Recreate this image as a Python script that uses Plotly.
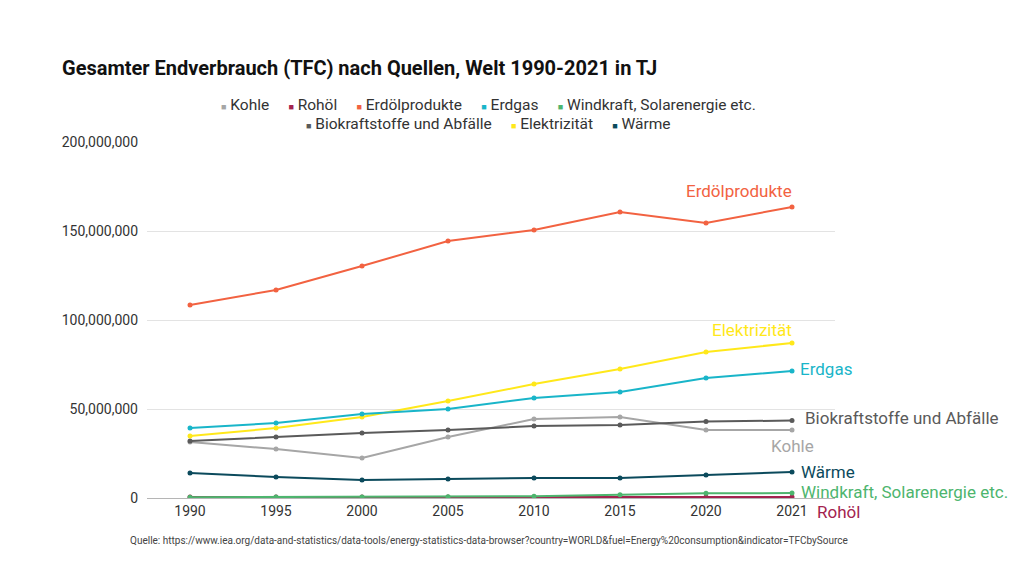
import plotly.graph_objects as go

years = ["1990", "1995", "2000", "2005", "2010", "2015", "2020", "2021"]

kohle = [31.5e6, 27.5e6, 22.5e6, 34.3e6, 44.4e6, 45.5e6, 38.2e6, 38.2e6]
rohoel = [0.5e6, 0.5e6, 0.5e6, 0.5e6, 0.5e6, 0.6e6, 0.6e6, 0.6e6]
erdoelprodukte = [108.4e6, 116.9e6, 130.3e6, 144.4e6, 150.6e6, 160.7e6, 154.5e6, 163.5e6]
erdgas = [39.3e6, 42.1e6, 47.2e6, 50.0e6, 56.2e6, 59.6e6, 67.4e6, 71.3e6]
windkraft = [0.4e6, 0.5e6, 0.6e6, 0.7e6, 1.0e6, 1.8e6, 2.6e6, 2.8e6]
biokraft = [32.0e6, 34.3e6, 36.5e6, 38.2e6, 40.4e6, 41.0e6, 43.0e6, 43.5e6]
elektrizitaet = [34.8e6, 39.3e6, 45.5e6, 54.5e6, 64.0e6, 72.5e6, 82.0e6, 87.1e6]
waerme = [14.0e6, 11.8e6, 10.1e6, 10.7e6, 11.2e6, 11.2e6, 12.9e6, 14.6e6]

names = ["Kohle", "Rohöl", "Erdölprodukte", "Erdgas", "Windkraft, Solarenergie etc.",
         "Biokraftstoffe und Abfälle", "Elektrizität", "Wärme"]
series = [kohle, rohoel, erdoelprodukte, erdgas, windkraft, biokraft, elektrizitaet, waerme]
colors = ["#a6a6a6", "#a3234f", "#f26241", "#19b5c9", "#4db56e",
          "#5a5a5a", "#ffe81a", "#0b4a5c"]

# end-label placement: (xanchor, xshift, yshift)
label_pos = {
    "Kohle": ("right", 24, -16),
    "Rohöl": ("left", 23, -15),
    "Erdölprodukte": ("right", 2, 16),
    "Erdgas": ("left", 6, 2),
    "Windkraft, Solarenergie etc.": ("left", 7, 1),
    "Biokraftstoffe und Abfälle": ("left", 11, 3),
    "Elektrizität": ("right", 2, 13),
    "Wärme": ("left", 7, 0),
}

FONT = "Roboto"
xi = list(range(len(years)))
fig = go.Figure()

draw_order = [1, 4, 7, 0, 5, 6, 3, 2]
for i in draw_order:
    fig.add_trace(go.Scatter(
        x=xi, y=series[i], mode="lines+markers", name=names[i],
        line=dict(color=colors[i], width=2),
        marker=dict(color=colors[i], size=5),
        showlegend=False,
        customdata=years,
        hovertemplate="%{customdata}: %{y:,}<extra>" + names[i] + "</extra>",
    ))

for i, n in enumerate(names):
    xa, xs, ys = label_pos[n]
    fig.add_annotation(
        x=xi[-1], y=series[i][-1], xref="x", yref="y",
        text=n, showarrow=False, xanchor=xa, yanchor="middle",
        xshift=xs, yshift=ys,
        font=dict(family=FONT, size=17, color=colors[i]),
    )

# legend rows (centered, two rows as in the original)
def legend_row(idx):
    parts = []
    for i in idx:
        parts.append("<span style='font-size:9px;color:%s'>■</span>&nbsp;%s" % (colors[i], names[i]))
    return "&nbsp;&nbsp;&nbsp;&nbsp;&nbsp;".join(parts)

fig.add_annotation(xref="paper", yref="paper", x=0.497, y=1 + 37 / 356,
                   xanchor="center", yanchor="middle", showarrow=False,
                   text=legend_row([0, 1, 2, 3, 4]),
                   font=dict(family=FONT, size=15.5, color="#333333"))
fig.add_annotation(xref="paper", yref="paper", x=0.497, y=1 + 18 / 356,
                   xanchor="center", yanchor="middle", showarrow=False,
                   text=legend_row([5, 6, 7]),
                   font=dict(family=FONT, size=15.5, color="#333333"))

fig.add_annotation(
    xref="paper", yref="paper", x=-19 / 688, y=-42 / 356, xanchor="left", yanchor="middle",
    text="Quelle: https://www.iea.org/data-and-statistics/data-tools/energy-statistics-data-browser?country=WORLD&fuel=Energy%20consumption&indicator=TFCbySource",
    showarrow=False, font=dict(family=FONT, size=10, color="#444444"),
)

fig.update_layout(
    width=1024, height=576,
    paper_bgcolor="white", plot_bgcolor="white",
    margin=dict(l=147, r=189, t=142, b=78),
    showlegend=False,
    title=dict(
        text="<b>Gesamter Endverbrauch (TFC) nach Quellen, Welt 1990-2021 in TJ</b>",
        x=62 / 1024, xanchor="left", y=1 - 68 / 576, yanchor="middle",
        font=dict(family=FONT, size=20, color="#111111"),
    ),
    xaxis=dict(
        range=[-0.5, len(years) - 0.5], tickvals=xi, ticktext=years,
        showgrid=False, showline=False, ticks="", zeroline=False,
        ticklabelstandoff=3,
        tickfont=dict(family=FONT, size=14, color="#333333"),
    ),
    yaxis=dict(
        range=[0, 200e6], tickvals=[0, 50e6, 100e6, 150e6, 200e6],
        tickformat=",d", showgrid=True, gridcolor="#e3e3e3", gridwidth=1,
        zeroline=True, zerolinecolor="#b5b5b5", zerolinewidth=1,
        showline=False, ticks="", ticklabelstandoff=8,
        tickfont=dict(family=FONT, size=14, color="#333333"),
    ),
    hovermode="closest",
)

fig.write_html("out.html", config={"displayModeBar": False},
               post_script="document.body.style.margin='0px';")
